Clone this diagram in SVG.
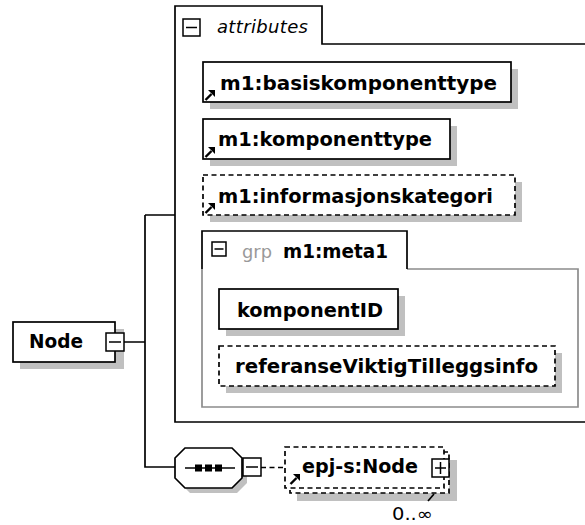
<svg xmlns="http://www.w3.org/2000/svg" width="585" height="525" viewBox="0 0 585 525">
<style>
.bg{fill:#fff}
.shadow{fill:#c0c0c0;stroke:none}
.box{fill:#fff;stroke:#000;stroke-width:1.7}
.dbox{fill:#fff;stroke:#000;stroke-width:1.7;stroke-dasharray:5,3.5}
.line{fill:none;stroke:#000;stroke-width:1.7}
.dline{fill:none;stroke:#000;stroke-width:1.7;stroke-dasharray:5,3.5}
.gline{fill:none;stroke:#8c8c8c;stroke-width:1.7}
.lbl{font-family:"DejaVu Sans","Liberation Sans",sans-serif;font-weight:bold;font-size:19.5px;fill:#000}
.it{font-family:"DejaVu Sans","Liberation Sans",sans-serif;font-style:italic;font-size:18px;fill:#000}
.grp{font-family:"DejaVu Sans","Liberation Sans",sans-serif;font-size:18px;fill:#999}
.occ{font-family:"DejaVu Sans","Liberation Sans",sans-serif;font-size:17px;fill:#000}
.icon{fill:#fff;stroke:#000;stroke-width:1.5}
.mark{fill:none;stroke:#000;stroke-width:1.5}
</style>
<defs>
<g id="refarrow">
<path d="M0.5 10 L6.5 4" stroke="#000" stroke-width="2.4" fill="none"/>
<polygon points="3,0 10,0 10,7" fill="#000"/>
</g>
</defs>
<rect class="bg" x="0" y="0" width="585" height="525"/>

<g id="connectors">
<path class="line" d="M124 342 H145 M145 215 V467 H175 M145 215 H175"/>
<path class="dline" d="M261 467.5 H285"/>
</g>

<g id="attributes">
<path class="line" d="M600 44 H322 V6 H175 V422 H600"/>
<rect class="icon" x="183" y="19" width="17" height="17"/>
<path class="mark" d="M186 27.5 H197"/>
<text class="it" x="217" y="33" textLength="91" lengthAdjust="spacing">attributes</text>
</g>

<g id="basiskomponenttype">
<rect class="shadow" x="210" y="69" width="308" height="40"/>
<rect class="box" x="203" y="62" width="308" height="40"/>
<use href="#refarrow" x="205" y="90"/>
<text class="lbl" x="220" y="90" textLength="277" lengthAdjust="spacingAndGlyphs">m1:basiskomponenttype</text>
</g>

<g id="komponenttype">
<rect class="shadow" x="210" y="126" width="247" height="40"/>
<rect class="box" x="203" y="119" width="247" height="40"/>
<use href="#refarrow" x="205" y="147"/>
<text class="lbl" x="218" y="146" textLength="214" lengthAdjust="spacingAndGlyphs">m1:komponenttype</text>
</g>

<g id="informasjonskategori">
<rect class="shadow" x="210" y="182" width="312" height="40"/>
<rect class="dbox" x="203" y="175" width="312" height="40"/>
<use href="#refarrow" x="205" y="203"/>
<text class="lbl" x="218" y="203" textLength="275" lengthAdjust="spacingAndGlyphs">m1:informasjonskategori</text>
</g>

<g id="meta1">
<path class="gline" d="M407 269 H578 V407 H202 V269"/>
<path class="line" d="M202 269 V231 H407 V269"/>
<rect class="icon" x="212" y="242" width="14" height="14"/>
<path class="mark" d="M214.5 249 H223.5"/>
<text class="grp" x="242" y="258" textLength="30" lengthAdjust="spacingAndGlyphs">grp</text>
<text class="lbl" x="283" y="258" textLength="105" lengthAdjust="spacingAndGlyphs">m1:meta1</text>
</g>

<g id="komponentID">
<rect class="shadow" x="226" y="296" width="179" height="40"/>
<rect class="box" x="219" y="289" width="179" height="40"/>
<text class="lbl" x="237" y="317" textLength="146" lengthAdjust="spacingAndGlyphs">komponentID</text>
</g>

<g id="referanseViktigTilleggsinfo">
<rect class="shadow" x="226" y="353" width="336" height="40"/>
<rect class="dbox" x="219" y="346" width="336" height="40"/>
<text class="lbl" x="235" y="373" textLength="303" lengthAdjust="spacingAndGlyphs">referanseViktigTilleggsinfo</text>
</g>

<g id="Node">
<rect class="shadow" x="20" y="329" width="104" height="40"/>
<rect class="box" x="13" y="322" width="102" height="40"/>
<text class="lbl" x="29" y="348" textLength="54" lengthAdjust="spacingAndGlyphs">Node</text>
<rect class="icon" x="106" y="333" width="18" height="18"/>
<path class="mark" d="M109 342 H121"/>
</g>

<g id="sequence">
<polygon class="shadow" points="190,453 237,453 247,463 247,483 237,493 190,493 180,483 180,463"/>
<polygon class="box" points="185,448 232,448 242,458 242,478 232,488 185,488 175,478 175,458"/>
<path class="line" d="M185 468 H235"/>
<rect x="195" y="464.5" width="7" height="7" fill="#000"/>
<rect x="205" y="464.5" width="7" height="7" fill="#000"/>
<rect x="215" y="464.5" width="7" height="7" fill="#000"/>
<rect class="icon" x="243" y="458" width="18" height="18"/>
<path class="mark" d="M246 467 H258"/>
</g>

<g id="epj-s-Node">
<rect class="shadow" x="297" y="460" width="160" height="41"/>
<rect class="dbox" x="290" y="452" width="159" height="41"/>
<rect class="dbox" x="285" y="447" width="159" height="41"/>
<use href="#refarrow" x="290" y="474"/>
<text class="lbl" x="302" y="473" textLength="116" lengthAdjust="spacingAndGlyphs">epj-s:Node</text>
<rect class="icon" x="432" y="459" width="17" height="18"/>
<path class="mark" d="M435 468 H446 M440.5 462 V474"/>
<path class="line" d="M434 494 L428 501" stroke-width="1.3"/>
<text class="occ" x="392" y="520" textLength="41" lengthAdjust="spacingAndGlyphs">0..∞</text>
</g>
</svg>
